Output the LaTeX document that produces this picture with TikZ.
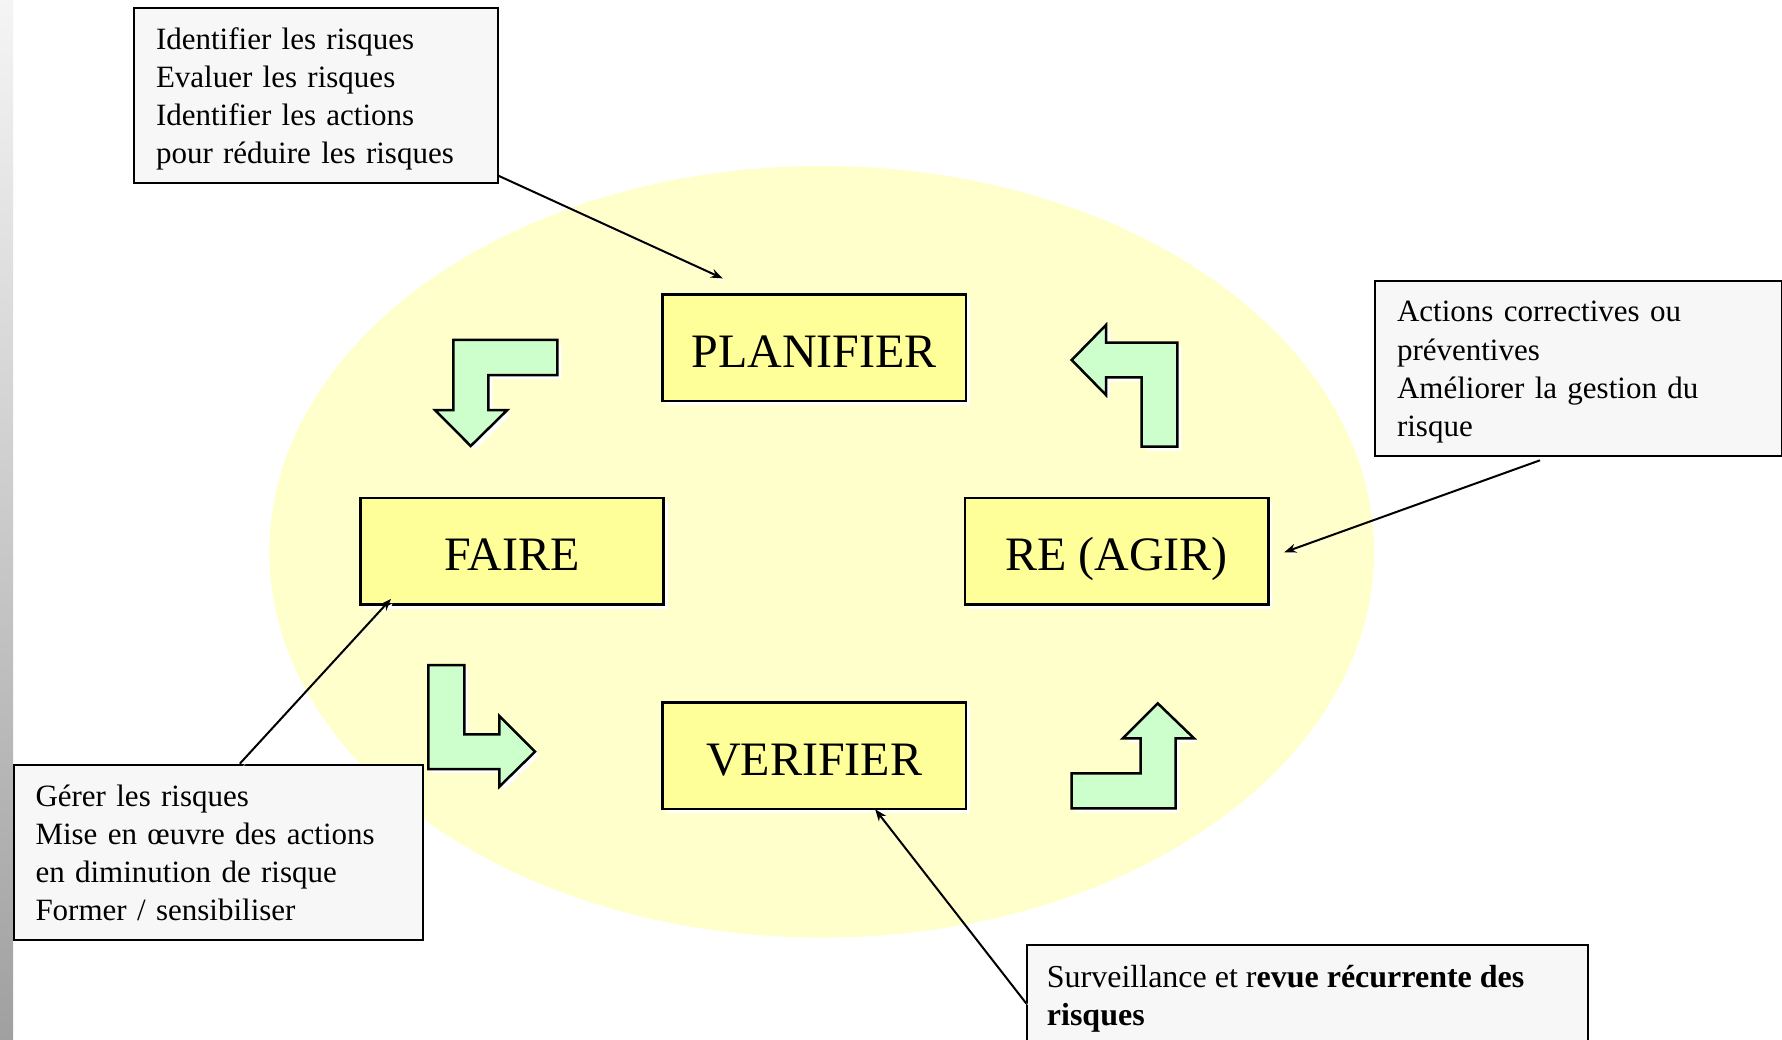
\documentclass[tikz,border=0pt]{standalone}
\usepackage{fontspec}
\setmainfont{Liberation Serif}
\usetikzlibrary{arrows.meta,shadows,calc}

\definecolor{ellfill}{RGB}{255,255,204}
\definecolor{stepfill}{RGB}{255,255,153}
\definecolor{arrowfill}{RGB}{204,255,204}
\definecolor{notefill}{RGB}{247,247,247}
\definecolor{edgegray}{RGB}{160,160,160}

% struts giving every note the same first-line height and last-line depth
\newcommand{\topstrut}{\rule{0pt}{29.5pt}}
\newcommand{\botstrut}{\rule[-7pt]{0pt}{7pt}}

\tikzset{
  stepbox/.style={draw=black, line width=2.5pt, fill=stepfill,
    minimum width=303.4pt, minimum height=106.8pt, inner sep=0pt,
    text height=45.6pt, text depth=7pt,
    font=\fontsize{48}{56}\selectfont,
    drop shadow={fill=white, opacity=1, shadow xshift=4pt, shadow yshift=-4pt}},
  note/.style={draw=black, line width=2pt, fill=notefill, align=left,
    inner xsep=22pt, inner ysep=0pt, anchor=north west,
    font=\fontsize{31}{38.3}\selectfont},
  notetext/.style={align=left, inner sep=0pt, anchor=north west,
    font=\fontsize{32}{38.3}\selectfont},
  bent/.style={draw=black, line width=2.5pt, fill=arrowfill, line join=miter,
    preaction={fill=white, transform canvas={xshift=4pt, yshift=-4pt}}},
  conn/.style={draw=black, line width=2pt, -{Stealth[length=12pt, width=9pt]},
    preaction={draw=white, transform canvas={xshift=3pt, yshift=-3pt}}},
}

\begin{document}
\begin{tikzpicture}[x=1pt, y=-1pt]
  % page
  \useasboundingbox (0,0) rectangle (1782,1040);
  \fill[white] (0,0) rectangle (1782,1040);
  \shade[top color=white!96!black, bottom color=edgegray] (0,0) rectangle (13,1040);

  % background ellipse
  \fill[ellfill] (821.7,551.8) ellipse [x radius=552.3pt, y radius=385.8pt];

  % the four steps of the cycle
  \node[stepbox] (plan)  at (814.3,347.8) {PLANIFIER};
  \node[stepbox] (faire) at (512.0,551.2) {FAIRE};
  \node[stepbox] (agir)  at (1116.6,551.2) {RE (AGIR)};
  \node[stepbox] (verif) at (814.3,755.8) {VERIFIER};

  % bent block arrows between the steps
  \path[bent] (453.3,340) -- (557.3,340) -- (557.3,375) -- (488.3,375) -- (488.3,410)
    -- (507.3,410) -- (470.7,446) -- (435,410) -- (453.3,410) -- cycle;
  \path[bent] (428.3,665) -- (464.3,665) -- (464.3,734.3) -- (499.3,734.3) -- (499.3,716)
    -- (535,751.7) -- (499.3,786.7) -- (499.3,769) -- (428.3,769) -- cycle;
  \path[bent] (1071.7,360) -- (1106,325) -- (1106,342.7) -- (1177.3,342.7) -- (1177.3,446.7)
    -- (1141.7,446.7) -- (1141.7,377.3) -- (1106,377.3) -- (1106,395) -- cycle;
  \path[bent] (1071.7,808.3) -- (1071.7,773.3) -- (1140.7,773.3) -- (1140.7,738.3) -- (1122.7,738.3)
    -- (1157.7,703.3) -- (1194,738.3) -- (1175.7,738.3) -- (1175.7,808.3) -- cycle;

  % explanatory notes
  \node[note, minimum width=363.6pt, minimum height=175pt, text width=319.6pt] (planNote) at (133,6.8)
    {\topstrut Identifier les risques\\Evaluer les risques\\Identifier les actions\\pour réduire les risques\botstrut};
  \node[note, minimum width=407pt, minimum height=175pt, text width=363pt] (agirNote) at (1374,279.6)
    {\topstrut Actions correctives ou\\préventives\\Améliorer la gestion du\\risque\botstrut};
  \node[note, minimum width=409.1pt, minimum height=175pt, text width=365.1pt] (faireNote) at (12.5,763.7)
    {\topstrut Gérer les risques\\Mise en œuvre des actions\\en diminution de risque\\Former / sensibiliser\botstrut};
  \node[note, minimum width=560.3pt, minimum height=130pt] (verifNote) at (1026.3,944.4) {};
  \node[notetext] (verifText) at (1046.7,965)
    {Surveillance et r\textbf{evue récurrente des}\\\textbf{risques}};

  % connector end points
  \coordinate (planIn)  at (722.8,278.4);
  \coordinate (agirIn)  at (1284.2,552.3);
  \coordinate (faireIn) at (391,598.9);
  \coordinate (verifIn) at (875.1,809.2);
  \coordinate (agirOut)  at (1540,460.3);
  \coordinate (faireOut) at (239.8,763.7);
  \coordinate (verifOut) at (1026.3,1003.5);

  % connectors from notes to steps
  \draw[conn] ($(planNote.south east)+(0,-8)$) -- (planIn);
  \draw[conn] (agirOut) -- (agirIn);
  \draw[conn] (faireOut) -- (faireIn);
  \draw[conn] (verifOut) -- (verifIn);
\end{tikzpicture}
\end{document}
